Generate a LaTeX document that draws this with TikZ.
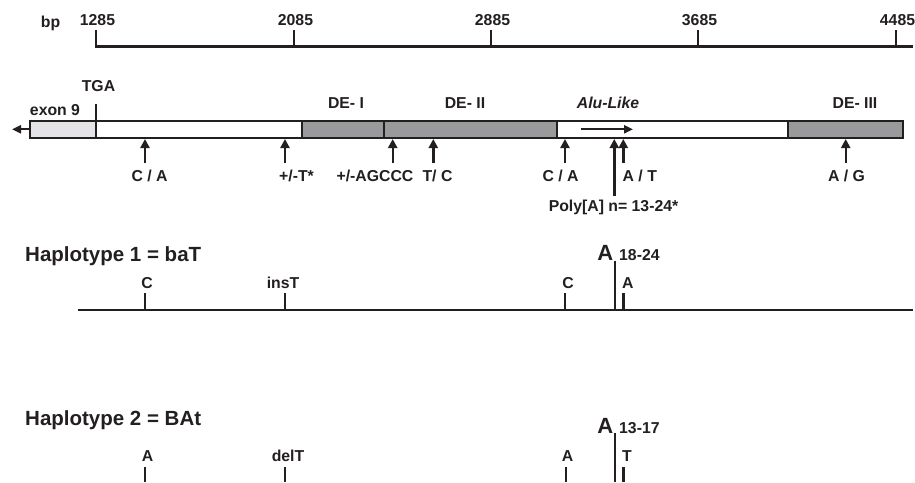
\documentclass[tikz,border=0pt]{standalone}
\usepackage{fontspec}
\setmainfont{Liberation Sans}
\usetikzlibrary{arrows.meta}
\definecolor{ink}{HTML}{231F20}
\definecolor{degray}{HTML}{9A9A9C}
\definecolor{exgray}{HTML}{E4E4E6}
\begin{document}
\begin{tikzpicture}[x=1pt,y=-1pt,
  lbl/.style={font=\bfseries\fontsize{15.8}{15.8}\selectfont, text=ink, inner sep=0pt, anchor=base},
  haptitle/.style={font=\bfseries\fontsize{20.5}{20.5}\selectfont, text=ink, inner sep=0pt, anchor=base west},
  bigA/.style={font=\bfseries\fontsize{22}{22}\selectfont, text=ink, inner sep=0pt, anchor=base east},
  seg/.style={draw=ink, line width=2.3pt},
  tickline/.style={draw=ink, line width=2.4pt},
  snp/.style={draw=ink, line width=2.4pt, -{Triangle[length=9pt,width=9pt]}},
  thinarrow/.style={draw=ink, line width=2.1pt, -{Triangle[length=9pt,width=8pt]}}]
\useasboundingbox (0,0) rectangle (915,482);

% ---------- scale ----------
\coordinate (sL) at (94.8,46.5);
\coordinate (sR) at (913,46.5);
\draw[tickline] (sL) -- (sR);
\foreach \x/\v/\n in {96/1285/a,294/2085/b,491/2885/c,698/3685/d,896/4485/e}{
  \coordinate (t\n) at (\x,30);
  \coordinate (b\n) at (\x,46.5);
  \draw[tickline] (t\n) -- (b\n);
  \node[lbl] (lab\n) at (\x+1.5,25) {\v};
}
\node[lbl] (bp) at (50.5,27) {bp};

% ---------- gene bar ----------
\draw[seg, fill=exgray] (30,121) rectangle (96,137.7);
\draw[seg, fill=white]  (96,121) rectangle (302,137.7);
\draw[seg, fill=degray] (302,121) rectangle (384,137.7);
\draw[seg, fill=degray] (384,121) rectangle (557,137.7);
\draw[seg, fill=white]  (557,121) rectangle (788,137.7);
\draw[seg, fill=degray] (788,121) rectangle (903,137.7);

\coordinate (tgaTop) at (96,104);
\coordinate (tgaBot) at (96,121);
\draw[tickline] (tgaTop) -- (tgaBot);
\node[lbl] (tga) at (98.5,91) {TGA};
\node[lbl] (exon) at (55,115) {exon 9};

\coordinate (ex9L) at (30,129.3);
\coordinate (ex9tip) at (12,129.3);
\draw[thinarrow] (ex9L) -- (ex9tip);
\coordinate (aluS) at (581,129.3);
\coordinate (aluE) at (633,129.3);
\draw[thinarrow] (aluS) -- (aluE);

\node[lbl] (de1) at (346,108.5) {DE- I};
\node[lbl] (de2) at (465,108.5) {DE- II};
\node[lbl,font=\bfseries\itshape\fontsize{15.8}{15.8}\selectfont] (alu) at (608,108.5) {Alu-Like};
\node[lbl] (de3) at (855,108.5) {DE- III};

% ---------- SNP arrows ----------
\foreach \x/\n in {145/m1,285/m2,392.7/m3,433.3/m4,565/m5,623.3/m6,845.7/m7}{
  \coordinate (\n t) at (\x,163);
  \coordinate (\n h) at (\x,139);
  \draw[snp] (\n t) -- (\n h);
}
\coordinate (polyT) at (614.3,196);
\coordinate (polyH) at (614.3,139);
\draw[snp] (polyT) -- (polyH);

\node[lbl] (l1) at (149.5,181) {C / A};
\node[lbl] (l2) at (296.5,181) {+/-T*};
\node[lbl] (l3) at (375,181) {+/-AGCCC};
\node[lbl] (l4) at (437.5,181) {T/ C};
\node[lbl] (l5) at (560.5,181) {C / A};
\node[lbl,anchor=base west] (l6) at (622.5,181) {A / T};
\node[lbl] (l7) at (846.5,181) {A / G};
\node[lbl] (poly) at (613.5,211) {Poly[A] n= 13-24*};

% ---------- haplotype 1 ----------
\node[haptitle] (h1) at (25,261.5) {Haplotype 1 = baT};
\coordinate (h1L) at (78,310);
\coordinate (h1R) at (913,310);
\draw[tickline] (h1L) -- (h1R);
\foreach \x/\n in {145/p1,285/p2,565/p3,623.3/p4}{
  \coordinate (\n t) at (\x,293);
  \coordinate (\n b) at (\x,310);
  \draw[tickline] (\n t) -- (\n b);
}
\coordinate (pAt) at (615,260.5);
\coordinate (pAb) at (615,310);
\draw[tickline] (pAt) -- (pAb);
\node[bigA] (h1A) at (613.5,260) {A};
\node[lbl,anchor=base west] (h1n) at (619,260) {18-24};
\node[lbl] (h1c) at (147,288) {C};
\node[lbl] (h1ins) at (283,288) {insT};
\node[lbl] (h1c2) at (568,288) {C};
\node[lbl,anchor=base west] (h1a2) at (622,288) {A};

% ---------- haplotype 2 ----------
\node[haptitle] (h2) at (25,425.5) {Haplotype 2 = BAt};
\foreach \x/\n in {145/q1,285/q2,566/q3,623.3/q4}{
  \coordinate (\n t) at (\x,467);
  \coordinate (\n b) at (\x,482);
  \draw[tickline] (\n t) -- (\n b);
}
\coordinate (qAt) at (615,433);
\coordinate (qAb) at (615,482);
\draw[tickline] (qAt) -- (qAb);
\node[bigA] (h2A) at (613.5,433) {A};
\node[lbl,anchor=base west] (h2n) at (619,433) {13-17};
\node[lbl] (h2a) at (147.5,461) {A};
\node[lbl] (h2del) at (288,461) {delT};
\node[lbl] (h2a2) at (567.5,461) {A};
\node[lbl,anchor=base west] (h2t) at (622,461) {T};
\end{tikzpicture}
\end{document}
